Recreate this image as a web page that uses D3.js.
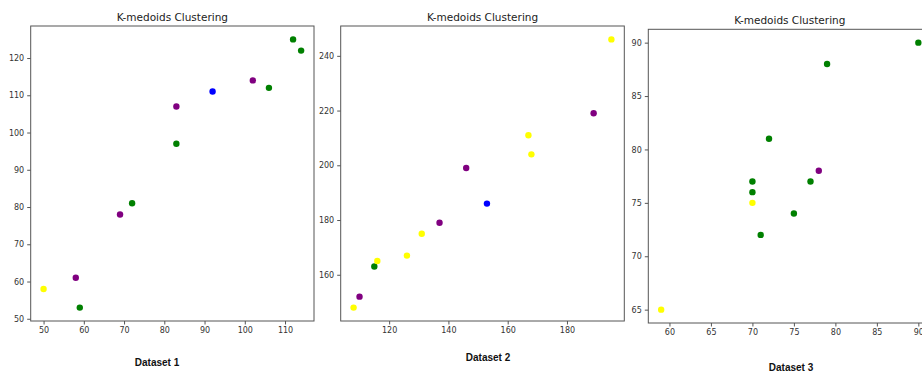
<!DOCTYPE html>
<html><head><meta charset="utf-8">
<script src="https://cdn.jsdelivr.net/npm/d3@7"></script>
<style>body{margin:0;background:#fff}svg{display:block}</style>
</head><body>
<svg id="c" width="922" height="374"></svg>
<script>
const title = "K-medoids Clustering";
const colorMap = {Y:"#ffff00", P:"#800080", G:"#008000", B:"#0000ff"};

const ds1X = [50,58,59,69,72,83,83,92,102,106,112,114];
const ds1Y = [58,61,53,78,81,107,97,111,114,112,125,122];
const ds1C = ["Y","P","G","P","G","P","G","B","P","G","G","G"];
const ds1XTicks = [50,60,70,80,90,100,110];
const ds1YTicks = [50,60,70,80,90,100,110,120];

const ds2X = [108,110,115,116,126,131,137,146,153,167,168,189,195];
const ds2Y = [148,152,163,165,167,175,179,199,186,211,204,219,246];
const ds2C = ["Y","P","G","Y","Y","Y","P","P","B","Y","Y","P","Y"];
const ds2XTicks = [120,140,160,180];
const ds2YTicks = [160,180,200,220,240];

const ds3X = [59,70,70,70,71,72,75,77,78,79,90];
const ds3Y = [65,77,76,75,72,81,74,77,78,88,90];
const ds3C = ["Y","G","G","Y","G","G","G","G","P","G","G"];
const ds3XTicks = [60,65,70,75,80,85,90];
const ds3YTicks = [65,70,75,80,85,90];

const labels = ["Dataset 1","Dataset 2","Dataset 3"];

const panels = [
  {xs:ds1X, ys:ds1Y, cs:ds1C, xt:ds1XTicks, yt:ds1YTicks, box:[30.7,26,314,321], label:labels[0], lx:157, ly:366, ty:21},
  {xs:ds2X, ys:ds2Y, cs:ds2C, xt:ds2XTicks, yt:ds2YTicks, box:[340.7,26,624.3,321], label:labels[1], lx:488, ly:361, ty:21},
  {xs:ds3X, ys:ds3Y, cs:ds3C, xt:ds3XTicks, yt:ds3YTicks, box:[648.3,29.3,931.2,323], label:labels[2], lx:791, ly:371, ty:24}
];

const svg = d3.select("#c");

function pad(ext){ const r = ext[1]-ext[0]; return [ext[0]-0.05*r, ext[1]+0.05*r]; }

panels.forEach(p => {
  const [x0,y0,x1,y1] = p.box;
  const x = d3.scaleLinear().domain(pad(d3.extent(p.xs))).range([x0,x1]);
  const y = d3.scaleLinear().domain(pad(d3.extent(p.ys))).range([y1,y0]);
  const g = svg.append("g");

  const xa = g.append("g").attr("transform",`translate(0,${y1})`)
    .call(d3.axisBottom(x).tickValues(p.xt).tickSize(3.5).tickPadding(3).tickFormat(d3.format("d")));
  const ya = g.append("g").attr("transform",`translate(${x0},0)`)
    .call(d3.axisLeft(y).tickValues(p.yt).tickSize(3.5).tickPadding(3).tickFormat(d3.format("d")));
  [xa,ya].forEach(a=>{
    a.select(".domain").remove();
    a.selectAll("line").attr("stroke","#555");
    a.selectAll("text").attr("fill","#333").style("font-family","DejaVu Sans").style("font-size","8px");
  });

  g.append("rect").attr("x",x0).attr("y",y0).attr("width",x1-x0).attr("height",y1-y0)
    .attr("fill","none").attr("stroke","#555").attr("stroke-width",1);

  g.selectAll("circle").data(p.xs.map((v,i)=>({x:v,y:p.ys[i],c:p.cs[i]})))
    .join("circle").attr("cx",d=>x(d.x)).attr("cy",d=>y(d.y)).attr("r",3.2)
    .attr("fill",d=>colorMap[d.c]);

  g.append("text").attr("x",(x0+x1)/2).attr("y",p.ty).attr("text-anchor","middle")
    .style("font-family","DejaVu Sans").style("font-size","10.5px").attr("fill","#222").text(title);

  g.append("text").attr("x",p.lx).attr("y",p.ly).attr("text-anchor","middle")
    .style("font-family","Liberation Sans").style("font-weight","bold").style("font-size","10px").attr("fill","#111").text(p.label);
});
</script>
</body></html>
